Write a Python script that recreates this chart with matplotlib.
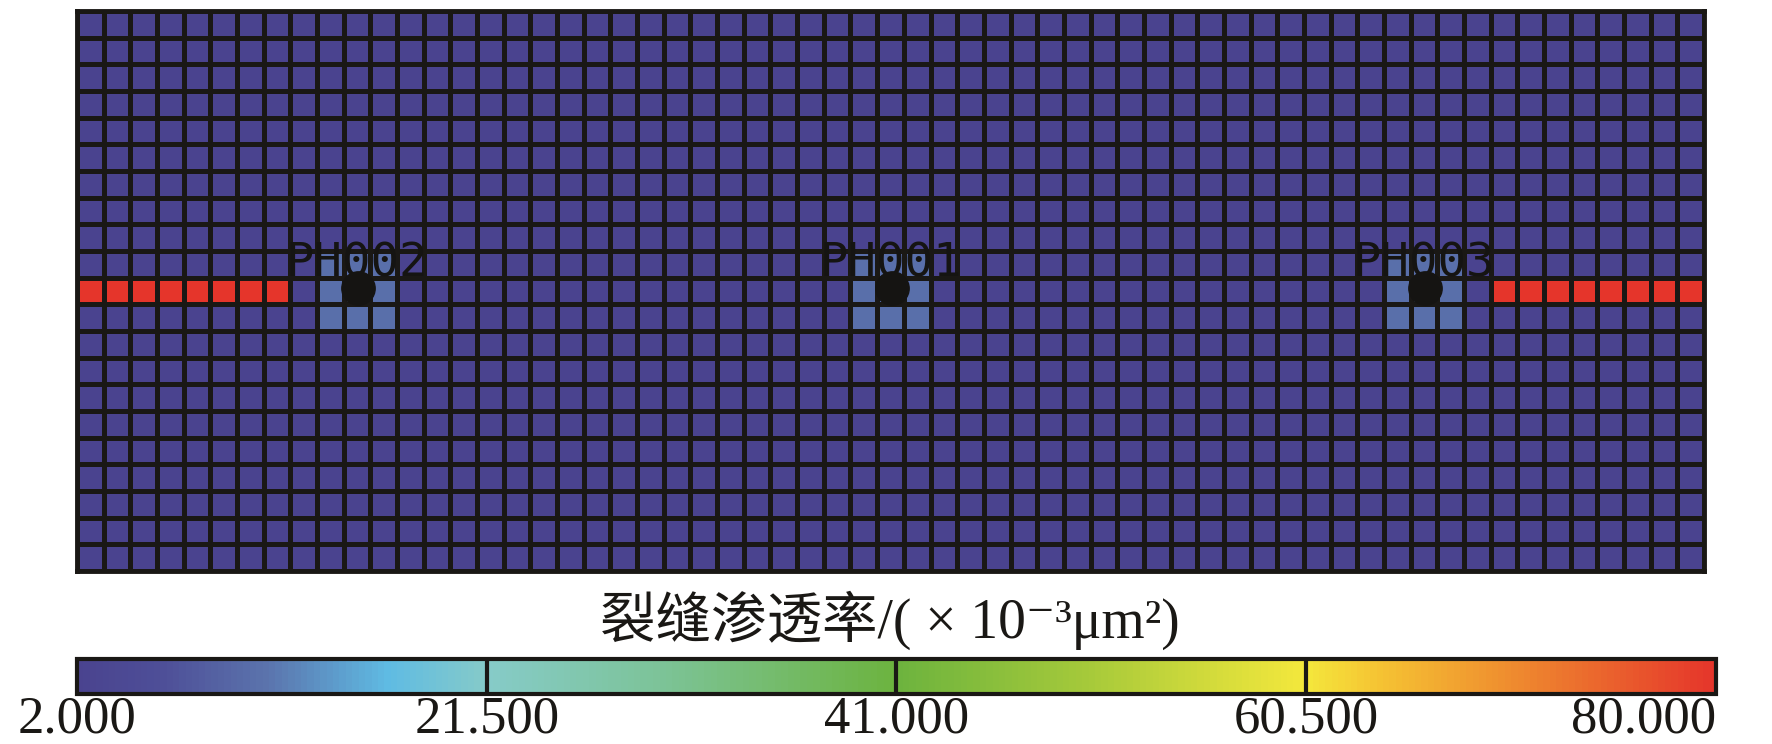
import numpy as np
import matplotlib
matplotlib.use('Agg')
import matplotlib.pyplot as plt
from matplotlib.colors import LinearSegmentedColormap, Normalize
from matplotlib.cm import ScalarMappable

# grid size (rows x columns of the simulation model)
n_rows = 21
n_cols = 61

# permeability values, 1e-3 um^2
matrix_perm = 2.0
near_well_perm = 10.5
fracture_perm = 80.0

wells = ['PH002', 'PH001', 'PH003']
well_cols = [10, 30, 50]
well_row = 10
fracture_cols = [0, 1, 2, 3, 4, 5, 6, 7, 53, 54, 55, 56, 57, 58, 59, 60]

cbar_ticks = [2.0, 21.5, 41.0, 60.5, 80.0]
cbar_title = '裂缝渗透率/( × 10⁻³μm²)'

# colour stops of the legend bar
stop_vals = [2.0, 6.0, 11.0, 16.7, 21.5, 30.0, 41.0, 50.0, 60.5, 64.0, 70.0, 80.0]
stop_cols = ['#4a438f', '#4e4f98', '#5b74ad', '#5fbbe3', '#86cbc8', '#7cc396',
             '#6cb33e', '#a5c93a', '#f4e83c', '#f5c433', '#ef8f2f', '#e5352b']

vmin, vmax = cbar_ticks[0], cbar_ticks[-1]
cmap = LinearSegmentedColormap.from_list(
    'perm', list(zip([(v - vmin) / (vmax - vmin) for v in stop_vals], stop_cols)))
norm = Normalize(vmin, vmax)

perm = np.full((n_rows, n_cols), matrix_perm)
for c in well_cols:
    perm[well_row - 1:well_row + 2, c - 1:c + 2] = near_well_perm
perm[well_row, fracture_cols] = fracture_perm

W, H = 1772, 744
fig = plt.figure(figsize=(W / 100, H / 100), dpi=100)

ax = fig.add_axes([77 / W, 1 - 571 / H, (1704 - 77) / W, (571 - 11) / H])
ax.pcolormesh(np.arange(n_cols + 1), np.arange(n_rows + 1), perm, cmap=cmap, norm=norm,
              edgecolors='#1a1815', linewidth=3.6)
ax.set_xlim(0, n_cols)
ax.set_ylim(n_rows, 0)
ax.set_xticks([])
ax.set_yticks([])
for s in ax.spines.values():
    s.set_linewidth(3.5)
    s.set_color('#1a1815')

for name, c in zip(wells, well_cols):
    ax.plot(c + 0.55, well_row + 0.4, 'o', color='#151412', markersize=24, zorder=5)
    ax.text(c + 0.5, well_row - 0.5, name, ha='center', va='center',
            fontsize=34, family='DejaVu Sans Mono', color='#151412', zorder=6)

fig.text(890 / W, 1 - 620 / H, cbar_title, ha='center', va='center', fontsize=40,
         family=['Liberation Serif', 'Noto Sans CJK SC', 'DejaVu Serif'], color='#1a1815')

cax = fig.add_axes([77 / W, 1 - 694 / H, (1716 - 77) / W, 35 / H])
cb = fig.colorbar(ScalarMappable(norm=norm, cmap=cmap), cax=cax, orientation='horizontal')
cb.set_ticks(cbar_ticks)
cb.set_ticklabels(['%.3f' % t for t in cbar_ticks])
cb.outline.set_linewidth(3)
cb.outline.set_edgecolor('#1a1815')
cax.tick_params(length=0, pad=1, labelsize=38)
for lab in cax.get_xticklabels():
    lab.set_family('Liberation Serif')
    lab.set_color('#1a1815')
cax.get_xticklabels()[-1].set_ha('right')
for t in cbar_ticks[1:-1]:
    cax.axvline(t, color='#1a1815', linewidth=3)

fig.savefig('out.png', dpi=100)
